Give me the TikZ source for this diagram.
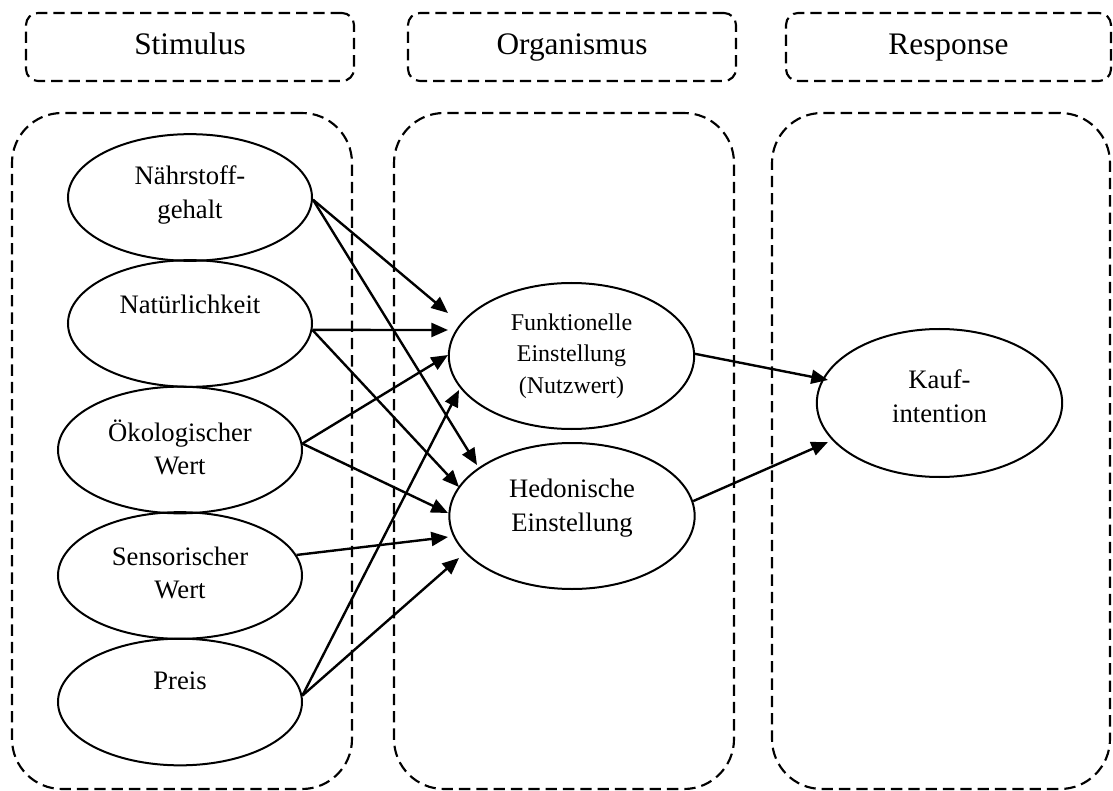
\documentclass[tikz,border=0pt]{standalone}
\usepackage{fontspec}
\setmainfont{Liberation Serif}
\usetikzlibrary{arrows.meta,shapes.geometric}
\begin{document}
\begin{tikzpicture}[x=0.75pt,y=-0.75pt,
  dsh/.style={draw, line width=1.6pt, dash pattern=on 8.5pt off 4.5pt},
  hdr/.style={dsh, rounded corners=9pt, minimum height=51pt, inner sep=0pt, text height=16pt, text depth=4pt, font=\fontsize{23.5}{28}\selectfont},
  grp/.style={dsh, rounded corners=37.5pt, minimum height=507pt, inner sep=0pt},
  ell/.style={draw, ellipse, line width=1.5pt, inner sep=0pt, minimum width=183pt, minimum height=95pt},
  lbl/.style={align=center, font=\fontsize{20}{25}\selectfont, inner sep=0pt},
  arr/.style={line width=1.8pt, -{Triangle[length=12.5pt,width=10.5pt]}}
]
\useasboundingbox (0,0) rectangle (1113,791);

% headers
\node[hdr, minimum width=246pt] (hS) at (190,47) {Stimulus};
\node[hdr, minimum width=246pt] (hO) at (572,47) {Organismus};
\node[hdr, minimum width=243.75pt] (hR) at (948.5,47) {Response};

% groups
\node[grp, minimum width=255pt] (gS) at (182,451) {};
\node[grp, minimum width=255pt] (gO) at (564,451) {};
\node[grp, minimum width=253.5pt] (gR) at (941,451) {};

% stimulus ellipses
\node[ell] (N1) at (190,197.5) {};
\node[ell] (N2) at (190,323.5) {};
\node[ell] (N3) at (180,450) {};
\node[ell] (N4) at (180,575.5) {};
\node[ell] (N5) at (180,702) {};
\node[lbl, yshift=2pt] (L1) at (N1.center) {Nährstoff-\\gehalt};
\node[lbl, yshift=14pt] (L2) at (N2.center) {Natürlichkeit};
\node[lbl, yshift=2pt] (L3) at (N3.center) {Ökologischer\\Wert};
\node[lbl, yshift=2pt] (L4) at (N4.center) {Sensorischer\\Wert};
\node[lbl, yshift=16pt] (L5) at (N5.center) {Preis};

% organismus ellipses
\node[ell, minimum width=184pt, minimum height=109.5pt] (F) at (571.5,356) {};
\node[ell, minimum width=184pt, minimum height=109.5pt] (H) at (572,516) {};
\node[lbl, font=\fontsize{18}{23.5}\selectfont] (LF) at (F.center) {Funktionelle\\Einstellung\\(Nutzwert)};
\node[lbl, yshift=6pt] (LH) at (H.center) {Hedonische\\Einstellung};

% response ellipse
\node[ell, minimum width=184pt, minimum height=111pt] (K) at (939.5,403) {};
\node[lbl, yshift=5pt] (LK) at (K.center) {Kauf-\\intention};

% arrow tips
\coordinate (tF1) at (448,313);
\coordinate (tH1) at (477,465);
\coordinate (tF2) at (448,330);
\coordinate (tH2) at (459,487);
\coordinate (tF3) at (448,355);
\coordinate (tH3) at (448,513);
\coordinate (tH4) at (448,537);
\coordinate (tF5) at (459,390);
\coordinate (tH5) at (459,558);
\coordinate (tK1) at (828,380);
\coordinate (tK2) at (828,442);

\draw[arr] (N1.-1) -- (tF1);
\draw[arr] (N1.-1) -- (tH1);
\draw[arr] (N2.-3) -- (tF2);
\draw[arr] (N2.-3) -- (tH2);
\draw[arr] (N3.3) -- (tF3);
\draw[arr] (N3.3) -- (tH3);
\draw[arr] (N4.10) -- (tH4);
\draw[arr] (N5.3) -- (tF5);
\draw[arr] (N5.3) -- (tH5);
\draw[arr] (F.1) -- (tK1);
\draw[arr] (H.7) -- (tK2);
\end{tikzpicture}
\end{document}
